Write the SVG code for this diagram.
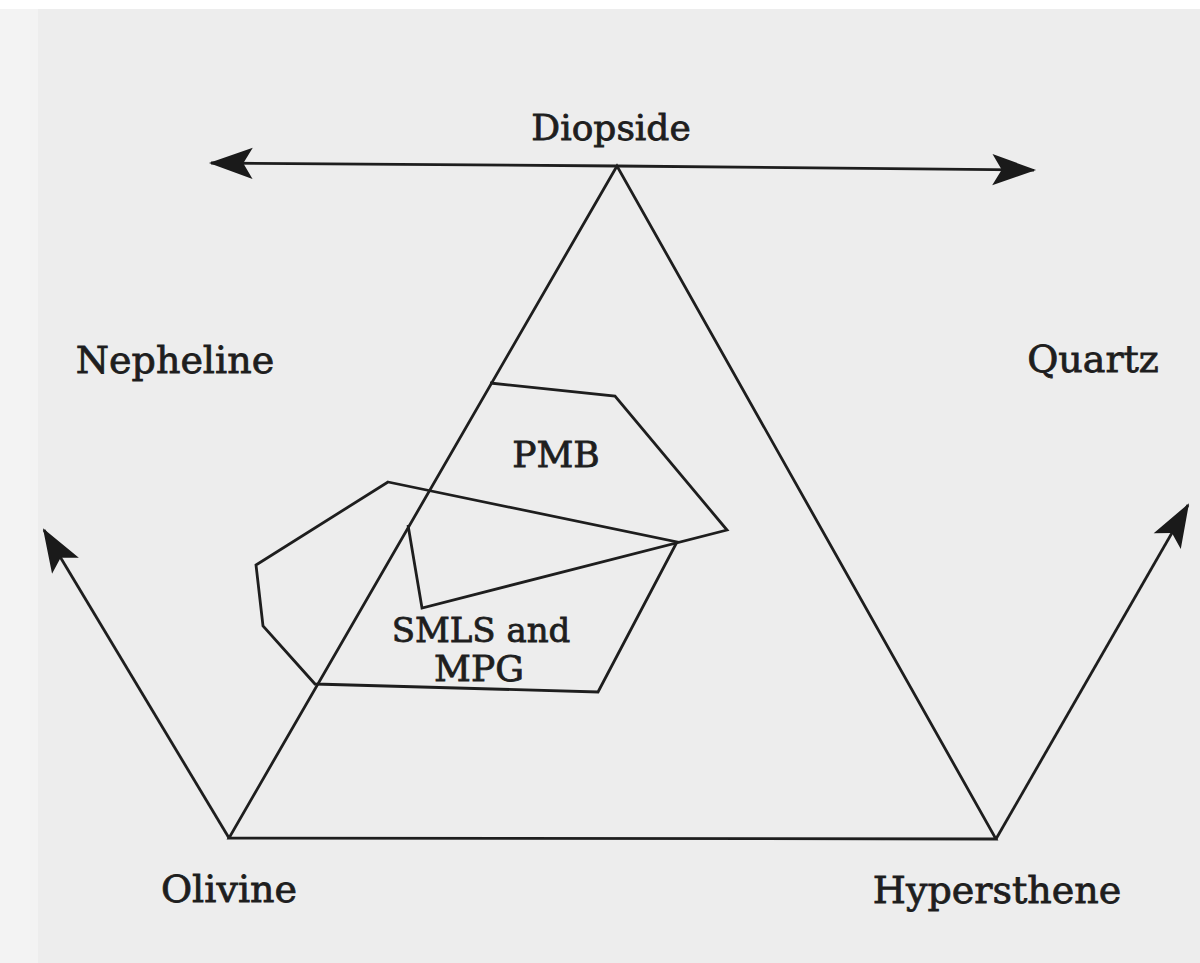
<svg xmlns="http://www.w3.org/2000/svg" width="1200" height="963" viewBox="0 0 1200 963">
<style>
.ln{fill:none;stroke:#1e1e1e;stroke-width:2.8;stroke-linejoin:miter}
.lbl{font-family:"DejaVu Serif","Liberation Serif",serif;font-size:38px;fill:#1e1e1e;stroke:#1e1e1e;stroke-width:0.8}
</style>
<defs>
<marker id="ah" markerUnits="userSpaceOnUse" markerWidth="50" markerHeight="50" viewBox="-44 -22 48 44" refX="0" refY="0" orient="auto">
<path d="M2,0 L-40,-15 L-31,0 L-40,15 Z" fill="#1a1a1a"/>
</marker>
</defs>
<rect x="0" y="0" width="1200" height="963" fill="#ffffff"/>
<rect x="0" y="9" width="1200" height="954" fill="#ededed"/>
<rect x="0" y="9" width="38" height="954" fill="#f3f3f3"/>
<g id="connectors">
<line class="ln" x1="617" y1="166" x2="211" y2="163" marker-end="url(#ah)"/>
<line class="ln" x1="617" y1="166" x2="1034" y2="170" marker-end="url(#ah)"/>
<line class="ln" x1="229" y1="838" x2="44" y2="530" marker-end="url(#ah)"/>
<line class="ln" x1="996" y1="839" x2="1188" y2="505" marker-end="url(#ah)"/>
</g>
<g id="triangle">
<polygon class="ln" points="617,166 229,838 996,839"/>
</g>
<g id="pmb">
<polyline class="ln" points="490,383 615,396 727,530 422,608 408,525"/>
<text class="lbl" x="556" y="467" text-anchor="middle" style="font-size:36px">PMB</text>
</g>
<g id="smls">
<polygon class="ln" points="388,482 677,542 598,692 315,684 263,626 256,565"/>
<text class="lbl" x="481" y="642" text-anchor="middle" style="font-size:34px">SMLS and</text>
<text class="lbl" x="479" y="681" text-anchor="middle" style="font-size:36px">MPG</text>
</g>
<g id="diopside"><text class="lbl" x="611" y="140" text-anchor="middle" style="font-size:36px">Diopside</text></g>
<g id="nepheline"><text class="lbl" x="175" y="373" text-anchor="middle">Nepheline</text></g>
<g id="quartz"><text class="lbl" x="1093" y="372" text-anchor="middle">Quartz</text></g>
<g id="olivine"><text class="lbl" x="229" y="902" text-anchor="middle">Olivine</text></g>
<g id="hypersthene"><text class="lbl" x="997" y="903" text-anchor="middle">Hypersthene</text></g>
</svg>
